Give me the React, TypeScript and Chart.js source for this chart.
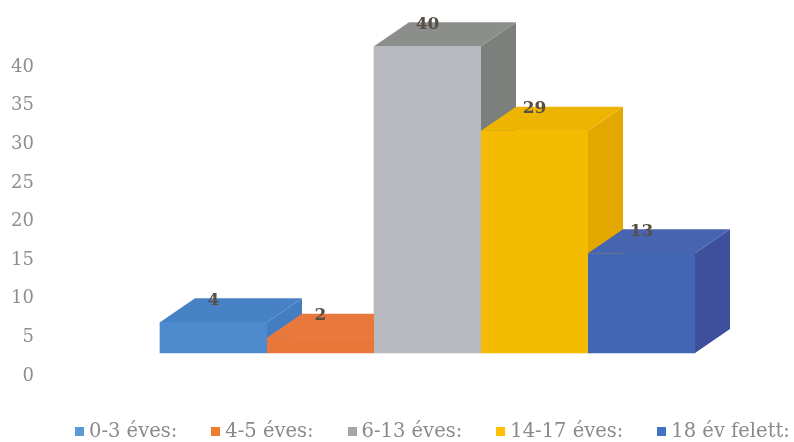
import { useEffect, useRef } from 'react';
import { Chart, registerables } from 'chart.js';

Chart.register(...registerables);

const categories: string[] = ['0-3 éves:', '4-5 éves:', '6-13 éves:', '14-17 éves:', '18 év felett:'];
const values: number[] = [4, 2, 40, 29, 13];
const yTickMin = 0;
const yTickMax = 40;
const yTickStep = 5;

const frontColors = ['#4d8bce', '#e9773a', '#b9babf', '#f5bb00', '#4266b4'];
const topColors = ['#4882c6', '#e8783c', '#8b8e8a', '#edb400', '#4764b1'];
const sideColors = ['#447dc2', '#dc7034', '#7c7f7b', '#e2a800', '#3e4f9c'];
const legendColors = ['#5b9bd5', '#ed7d31', '#a5a5a5', '#ffc000', '#4472c4'];

const DX = 35;
const DY = 24;

const bars3d = {
  id: 'bars3d',
  afterDatasetsDraw(chart: any) {
    const ctx = chart.ctx;
    const meta = chart.getDatasetMeta(0);
    ctx.save();
    meta.data.forEach((bar: any, i: number) => {
      const { x, y, base, width } = bar.getProps(['x', 'y', 'base', 'width'], true);
      const l = x - width / 2;
      const r = x + width / 2;
      // side face
      ctx.fillStyle = sideColors[i];
      ctx.beginPath();
      ctx.moveTo(r, y);
      ctx.lineTo(r + DX, y - DY);
      ctx.lineTo(r + DX, base - DY);
      ctx.lineTo(r, base);
      ctx.closePath();
      ctx.fill();
      // top face
      ctx.fillStyle = topColors[i];
      ctx.beginPath();
      ctx.moveTo(l, y);
      ctx.lineTo(r, y);
      ctx.lineTo(r + DX, y - DY);
      ctx.lineTo(l + DX, y - DY);
      ctx.closePath();
      ctx.fill();
      // front face
      ctx.fillStyle = frontColors[i];
      ctx.fillRect(l, y, width, base - y);
    });
    // value labels
    ctx.fillStyle = '#584e46';
    ctx.font = 'bold 17px "DejaVu Serif"';
    ctx.textAlign = 'center';
    ctx.textBaseline = 'middle';
    meta.data.forEach((bar: any, i: number) => {
      const { x, y } = bar.getProps(['x', 'y'], true);
      ctx.fillText(String(values[i]), x, y - DY + 2);
    });
    ctx.restore();
  },
};

export default function App() {
  const canvasRef = useRef<HTMLCanvasElement | null>(null);

  useEffect(() => {
    document.body.style.margin = '0';
    const canvas = canvasRef.current;
    if (!canvas) return;
    const chart = new Chart(canvas, {
      type: 'bar',
      data: {
        labels: categories,
        datasets: [
          {
            data: values,
            backgroundColor: frontColors,
            borderWidth: 0,
            barPercentage: 1,
            categoryPercentage: 1,
            yAxisID: 'y2',
            clip: false as any,
          },
        ],
      },
      options: {
        animation: false,
        responsive: false,
        maintainAspectRatio: false,
        layout: { padding: { top: 67, left: 0, right: 0, bottom: 0 } },
        plugins: {
          legend: { display: false },
          tooltip: { enabled: false },
        },
        scales: {
          x: {
            display: true,
            grid: { display: false, drawTicks: false },
            border: { display: false },
            ticks: { display: false },
            afterFit: (s: any) => {
              s.height = 66;
              s.paddingLeft = 0;
              s.paddingRight = 0;
            },
          },
          y: {
            position: 'left',
            min: yTickMin,
            max: yTickMax,
            grid: { display: false, drawTicks: false },
            border: { display: false },
            ticks: {
              stepSize: yTickStep,
              padding: 126,
              color: '#8e8e8e',
              font: { family: '"DejaVu Serif"', size: 18 },
            },
            afterFit: (s: any) => {
              s.width = 160;
              s.paddingTop = 0;
              s.paddingBottom = 0;
            },
          },
          y2: {
            position: 'right',
            display: true,
            min: -3,
            max: 37.3,
            grid: { display: false, drawTicks: false },
            border: { display: false },
            ticks: { display: false },
            afterFit: (s: any) => {
              s.width = 99;
              s.paddingTop = 0;
              s.paddingBottom = 0;
            },
          },
        },
      },
      plugins: [bars3d],
    });
    return () => chart.destroy();
  }, []);

  return (
    <div style={{ position: 'relative', width: 794, height: 442, background: '#fff' }}>
      <canvas ref={canvasRef} width={794} height={442} style={{ display: 'block' }} />
      <div
        style={{
          position: 'absolute',
          left: 75,
          top: 419,
          display: 'flex',
          alignItems: 'center',
          gap: 34,
          fontFamily: '"DejaVu Serif"',
          fontSize: 19.5,
          color: '#8a8a8a',
          whiteSpace: 'nowrap',
          lineHeight: '24px',
        }}
      >
        {categories.map((c, i) => (
          <div key={c} style={{ display: 'flex', alignItems: 'center' }}>
            <span style={{ display: 'inline-block', width: 9, height: 9, background: legendColors[i], marginRight: 5 }} />
            <span>{c}</span>
          </div>
        ))}
      </div>
    </div>
  );
}
